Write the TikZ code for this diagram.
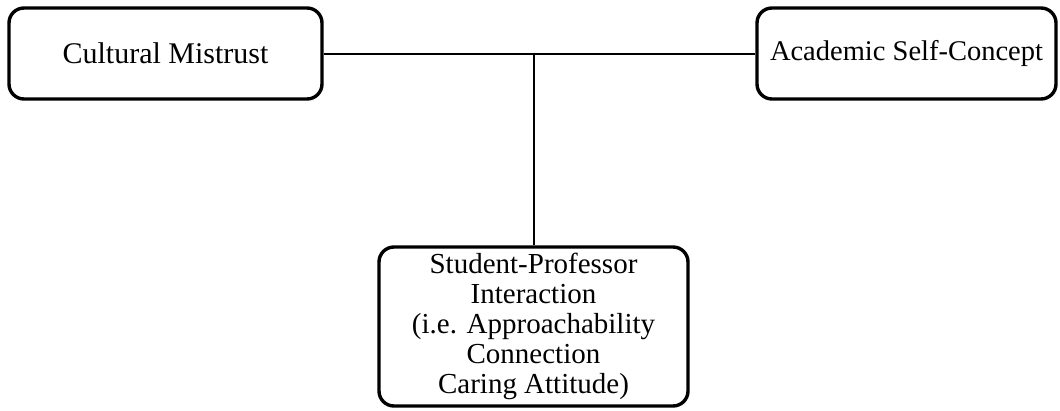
\documentclass[tikz,border=0pt]{standalone}
\usepackage{fontspec}
\setmainfont{Liberation Serif}
\usetikzlibrary{calc, positioning}

\begin{document}
\begin{tikzpicture}[x=1pt, y=1pt,
    conceptbox/.style={draw, line width=3.4pt, rounded corners=15pt, align=center, inner sep=0pt, font=\fontsize{29}{30}\selectfont},
    topbox/.style={conceptbox, minimum height=91pt, font=\fontsize{30}{30}\selectfont},
    link/.style={line width=2pt}]

    \useasboundingbox (0,0) rectangle (1060,-410);

    % Top row
    \node[topbox, minimum width=313pt] (cm) at (165.5,-53.5) {Cultural Mistrust};
    \node[topbox, minimum width=299pt, font=\fontsize{28.5}{30}\selectfont] (asc) at (906.5,-53.5) {Academic Self-Concept};

    % Bottom box
    \node[conceptbox, minimum width=309pt, minimum height=159pt] (spi) at (533.5,-326.5) {Student-Professor\\Interaction\\(i.e. Approachability\\Connection\\Caring Attitude)};

    % Connectors
    \draw[link] (cm.east) -- (asc.west);
    \draw[link] (spi.north) -- (spi.north |- cm.east);

\end{tikzpicture}
\end{document}
